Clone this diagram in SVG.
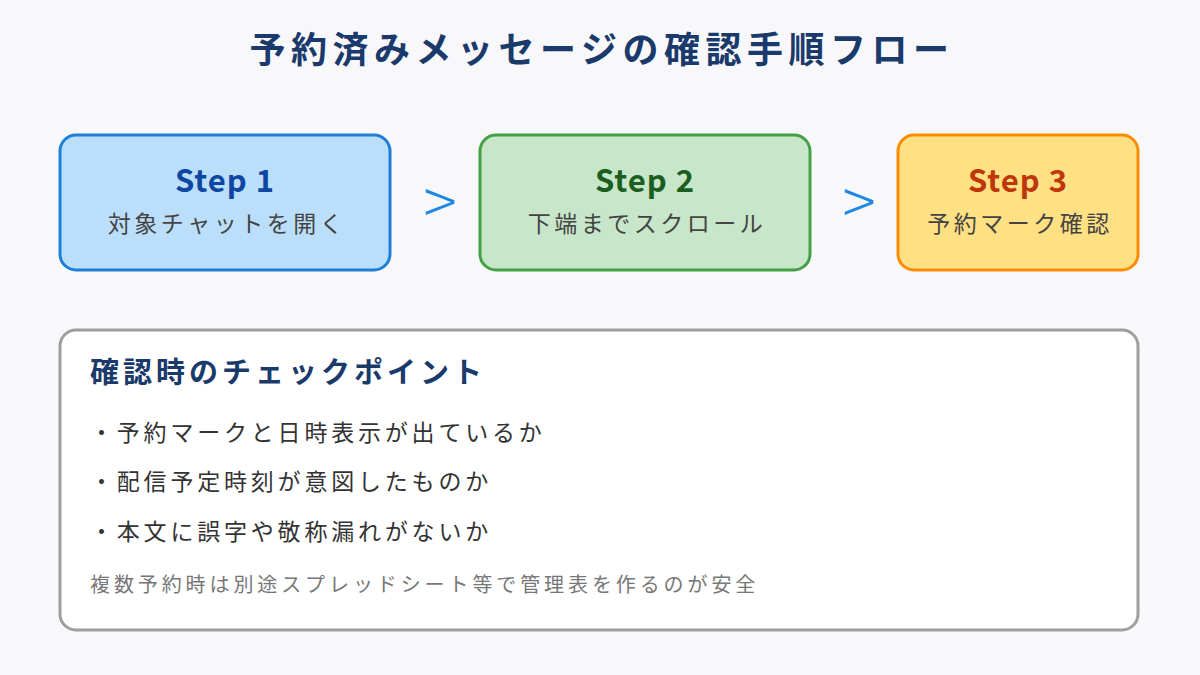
<svg xmlns="http://www.w3.org/2000/svg" width="1200" height="675" viewBox="0 0 1200 675">
<style>
text{font-family:"Noto Sans CJK JP","Noto Sans",sans-serif}
.t{font-size:36px;font-weight:bold;fill:#1A3A6B;text-anchor:middle;letter-spacing:5.5px}
.s{font-size:31px;font-weight:bold;text-anchor:middle;letter-spacing:1px}
.d{font-size:23px;fill:#444;text-anchor:middle;letter-spacing:3.5px}
.b{font-size:23px;fill:#333;letter-spacing:3.8px}
.ar{font-size:62px;font-weight:300;fill:#1E88E5;text-anchor:middle}
</style>
<rect width="1200" height="675" fill="#F8F8FA"/>
<text class="t" x="602" y="63">予約済みメッセージの確認手順フロー</text>
<g id="step1"><rect x="60" y="135" width="330" height="135" rx="16" fill="#BBDEFB" stroke="#1E7FD8" stroke-width="3"/>
<text class="s" x="225" y="192" fill="#0D47A1">Step 1</text><text class="d" x="227" y="232">対象チャットを開く</text></g>
<g id="step2"><rect x="480" y="135" width="330" height="135" rx="16" fill="#C8E6C9" stroke="#43A047" stroke-width="3"/>
<text class="s" x="645" y="192" fill="#1B5E20">Step 2</text><text class="d" x="647" y="232">下端までスクロール</text></g>
<g id="step3"><rect x="898" y="135" width="240" height="135" rx="16" fill="#FFE082" stroke="#FB8C00" stroke-width="3"/>
<text class="s" x="1018" y="192" fill="#BF360C">Step 3</text><text class="d" x="1020" y="232">予約マーク確認</text></g>
<g id="connectors"><text class="ar" x="440" y="225">&gt;</text><text class="ar" x="859" y="225">&gt;</text></g>
<g id="checks"><rect x="60" y="330" width="1078" height="300" rx="16" fill="#fff" stroke="#9E9E9E" stroke-width="3"/>
<text x="90" y="383" font-size="29" font-weight="bold" fill="#1A3A6B" letter-spacing="4">確認時のチェックポイント</text>
<text class="b" x="90" y="441">・予約マークと日時表示が出ているか</text>
<text class="b" x="90" y="490">・配信予定時刻が意図したものか</text>
<text class="b" x="90" y="540">・本文に誤字や敬称漏れがないか</text>
<text x="90" y="592" font-size="20" fill="#777" letter-spacing="3.9">複数予約時は別途スプレッドシート等で管理表を作るのが安全</text></g>
</svg>
